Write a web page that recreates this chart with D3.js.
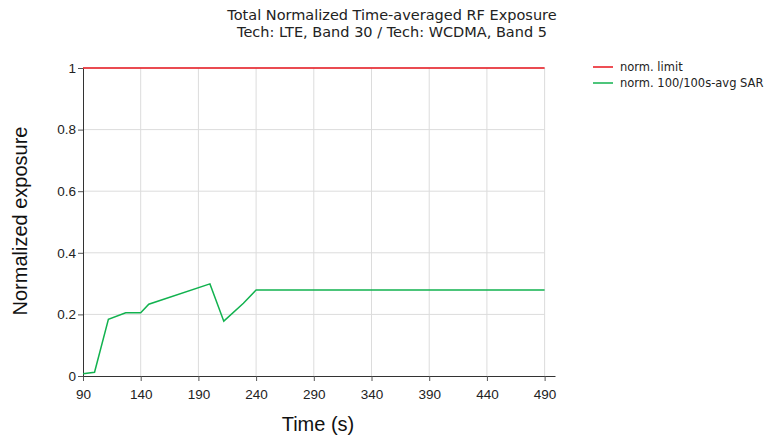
<!DOCTYPE html>
<html><head><meta charset="utf-8">
<script src="https://cdn.jsdelivr.net/npm/d3@7"></script>
<style>body{margin:0;background:#fff}</style>
</head><body>
<svg id="c" width="768" height="436"></svg>
<script>
const times = [90, 100, 112, 127, 140, 147, 200, 212, 229, 240, 490];
const sarValues = [0.007, 0.012, 0.184, 0.205, 0.205, 0.233, 0.299, 0.178, 0.236, 0.279, 0.279];
const limitTimes = [90, 490];
const limitValues = [1, 1];
const xTicks = [90, 140, 190, 240, 290, 340, 390, 440, 490];
const yTicks = [0, 0.2, 0.4, 0.6, 0.8, 1];
const yTickLabels = ["0", "0.2", "0.4", "0.6", "0.8", "1"];
const titleLines = ["Total Normalized Time-averaged RF Exposure", "Tech: LTE, Band 30 / Tech: WCDMA, Band 5"];
const legendLabels = ["norm. limit", "norm. 100/100s-avg SAR"];
const colors = ["#e8141c", "#12b24f"];

const svg = d3.select("#c");
const L = 83, R = 555, T = 68, B = 376;
const x = d3.scaleLinear().domain([90, 499]).range([L, R]);
const y = d3.scaleLinear().domain([0, 1]).range([B, T]);
const arial = "'Liberation Sans', Arial, sans-serif";
const verdana = "'DejaVu Sans', Verdana, sans-serif";

// grid
svg.append("g").selectAll("line").data(xTicks.slice(1)).join("line")
  .attr("x1", d => x(d)).attr("x2", d => x(d)).attr("y1", T).attr("y2", B)
  .attr("stroke", "#dcdcdc").attr("stroke-width", 1);
svg.append("g").selectAll("line").data(yTicks.slice(1)).join("line")
  .attr("x1", L).attr("x2", x(490)).attr("y1", d => y(d)).attr("y2", d => y(d))
  .attr("stroke", "#dcdcdc").attr("stroke-width", 1);

// axes
const xa = svg.append("g").attr("transform", `translate(0,${B})`)
  .call(d3.axisBottom(x).tickValues(xTicks).tickSize(5).tickSizeOuter(0).tickFormat(d3.format("d")));
const ya = svg.append("g").attr("transform", `translate(${L},0)`)
  .call(d3.axisLeft(y).tickValues(yTicks).tickSize(5).tickSizeOuter(0).tickFormat((d, i) => yTickLabels[i]));
[xa, ya].forEach(a => {
  a.attr("font-family", null).attr("font-size", null);
  a.selectAll("path").attr("stroke", "#333");
  a.selectAll("line").attr("stroke", "#555");
  a.selectAll("text").style("font-size", "13.5px").style("font-family", arial).attr("fill", "#222");
});
xa.selectAll("text").attr("dy", "1.1em");
ya.selectAll("text").attr("x", -7);

// lines
const line = d3.line().x(d => x(d[0])).y(d => y(d[1]));
svg.append("path").datum(limitTimes.map((t, i) => [t, limitValues[i]]))
  .attr("d", line).attr("fill", "none").attr("stroke", colors[0]).attr("stroke-width", 1.3);
svg.append("path").datum(times.map((t, i) => [t, sarValues[i]]))
  .attr("d", line).attr("fill", "none").attr("stroke", colors[1]).attr("stroke-width", 1.5);

// titles
svg.selectAll(".title").data(titleLines).join("text")
  .attr("x", 392).attr("y", (d, i) => 20 + i * 17).attr("text-anchor", "middle")
  .style("font-family", verdana).style("font-size", "14.5px").attr("fill", "#222").text(d => d);

svg.append("text").attr("x", 318).attr("y", 431).attr("text-anchor", "middle")
  .style("font-family", arial).style("font-size", "20px").attr("fill", "#111").text("Time (s)");
svg.append("text").attr("transform", "translate(27,221) rotate(-90)").attr("text-anchor", "middle")
  .style("font-family", arial).style("font-size", "20px").attr("fill", "#111").text("Normalized exposure");

// legend
const lg = svg.append("g").selectAll("g").data(legendLabels).join("g")
  .attr("transform", (d, i) => `translate(593,${67 + i * 16})`);
lg.append("line").attr("x1", 0).attr("x2", 20).attr("stroke", (d, i) => colors[i]).attr("stroke-width", 1.5);
lg.append("text").attr("x", 27).attr("y", 4).style("font-family", verdana).style("font-size", "11.5px")
  .attr("fill", "#222").text(d => d);
</script>
</body></html>
